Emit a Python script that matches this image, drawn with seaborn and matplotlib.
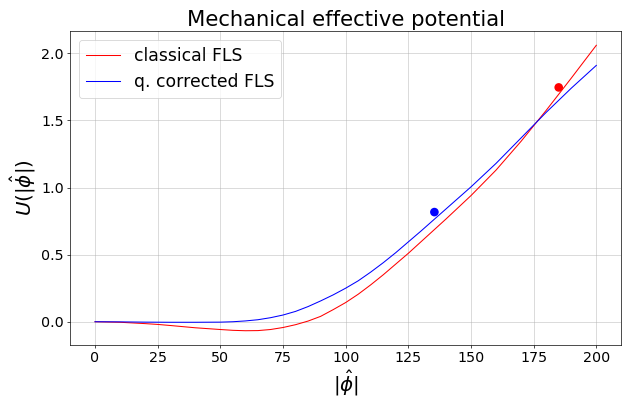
import numpy as np
import pandas as pd
import matplotlib
matplotlib.use("Agg")
import matplotlib.pyplot as plt
import seaborn as sns

# Data
phi_c = [0, 10, 20, 25, 30, 40, 50, 55, 60, 65, 70, 75, 80, 85, 90, 95, 100, 105, 110, 115,
         120, 125, 130, 140, 150, 160, 170, 180, 190, 200]
u_classical = [0.0, -0.004, -0.014, -0.02, -0.028, -0.045, -0.058, -0.064, -0.067, -0.066, -0.058,
               -0.043, -0.022, 0.005, 0.04, 0.09, 0.143, 0.205, 0.275, 0.35,
               0.43, 0.51, 0.595, 0.765, 0.94, 1.13, 1.345, 1.575, 1.815, 2.06]
phi_q = [0, 10, 20, 30, 40, 50, 55, 60, 65, 70, 75, 80, 85, 90, 95, 100, 105, 110, 115,
         120, 125, 130, 140, 150, 160, 170, 175, 180, 190, 200]
u_quantum = [0.0, -0.001, -0.003, -0.004, -0.004, -0.003, 0.0, 0.006, 0.015, 0.03, 0.05, 0.077,
             0.113, 0.155, 0.20, 0.25, 0.305, 0.37, 0.44,
             0.515, 0.595, 0.675, 0.84, 1.005, 1.18, 1.37, 1.465, 1.56, 1.74, 1.91]
pt_x = [185, 135.4]
pt_y = [1.746, 0.817]
pt_color = ["red", "blue"]

plt.rcParams['font.family'] = ['DejaVu Sans']

DPI = 62.2
fig = plt.figure(figsize=(622 / DPI, 400 / DPI), dpi=DPI)
ax = fig.add_axes([0.1125, 0.1375, 0.8865, 0.785])

df = pd.DataFrame({"phi": phi_c + phi_q,
                   "U": u_classical + u_quantum,
                   "label": ["classical FLS"] * len(phi_c) + ["q. corrected FLS"] * len(phi_q)})
sns.lineplot(data=df, x="phi", y="U", hue="label", palette=["red", "blue"], lw=1.2, ax=ax)
for x, y, c in zip(pt_x, pt_y, pt_color):
    ax.scatter([x], [y], color=c, s=100, zorder=5, edgecolors="none")

ax.grid(True, color="#b0b0b0", alpha=0.65)
ax.set_axisbelow(True)
ax.tick_params(labelsize=16.5)
ax.set_xticks([0, 25, 50, 75, 100, 125, 150, 175, 200])
ax.set_yticks([0.0, 0.5, 1.0, 1.5, 2.0])
ax.set_title("Mechanical effective potential", fontsize=24.5)
ax.set_xlabel(r"$|\hat{\phi}|$", fontsize=23)
ax.set_ylabel(r"$U(|\hat{\phi}|)$", fontsize=23)
leg = ax.legend(fontsize=20, loc="upper left", frameon=True)
leg.set_title(None)

fig.savefig("out.png", dpi=DPI)
